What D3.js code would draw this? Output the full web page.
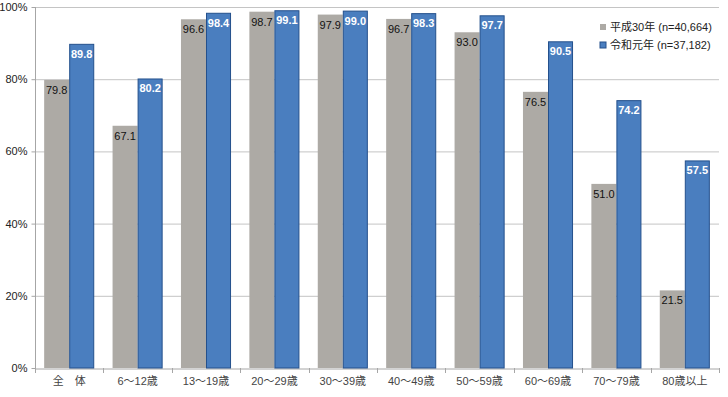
<!DOCTYPE html>
<html>
<head>
<meta charset="utf-8">
<script src="https://cdn.jsdelivr.net/npm/d3@7"></script>
<style>
  body { margin: 0; background: #fff; }
  svg { display: block; font-family: "Liberation Sans", Arial, "Noto Sans CJK JP", sans-serif; }
</style>
</head>
<body>
<svg id="chart" width="728" height="397"></svg>
<script>
// chart data
const categories = ['全\u3000体', '6〜12歳', '13〜19歳', '20〜29歳', '30〜39歳', '40〜49歳', '50〜59歳', '60〜69歳', '70〜79歳', '80歳以上'];
const seriesNames = ['平成30年 (n=40,664)', '令和元年 (n=37,182)'];
const h30 = [79.8, 67.1, 96.6, 98.7, 97.9, 96.7, 93.0, 76.5, 51.0, 21.5];
const r01 = [89.8, 80.2, 98.4, 99.1, 99.0, 98.3, 97.7, 90.5, 74.2, 57.5];
const yTicks = [0, 20, 40, 60, 80, 100];

const margin = { left: 35, right: 9, top: 7, bottom: 29 };
const W = 728, H = 397;

const svg = d3.select('#chart');

let x = d3.scaleBand()
  .domain(categories)
  .range([margin.left, W - margin.right]);

let y = d3.scaleLinear()
  .domain([0, 100])
  .range([H - margin.bottom, margin.top]);

let barW = x.bandwidth() * 0.366;

// grid lines
svg.append('g')
  .selectAll('line')
  .data(yTicks.filter(d => d > 0))
  .join('line')
  .attr('x1', margin.left)
  .attr('x2', W - margin.right)
  .attr('y1', d => y(d) + 0.5)
  .attr('y2', d => y(d) + 0.5)
  .attr('stroke', '#c4c4c4');

// y axis
let yAxis = svg.append('g')
  .attr('transform', `translate(${margin.left + 0.5},0)`)
  .call(d3.axisLeft(y).tickValues(yTicks).tickFormat(d => d + '%').tickSize(4).tickPadding(4));
yAxis.select('.domain').attr('stroke', '#a6a6a6').attr('d', `M0,${y(100)}V${y(0)}`);
yAxis.selectAll('.tick line').attr('stroke', '#a6a6a6');
yAxis.selectAll('.tick text').attr('font-size', 11).attr('fill', '#222')
  .attr('font-family', '"Liberation Sans", Arial, sans-serif');

// x axis
let xAxis = svg.append('g')
  .attr('transform', `translate(0,${y(0) + 0.5})`)
  .call(d3.axisBottom(x).tickSize(0).tickPadding(9));
xAxis.select('.domain').attr('stroke', '#a6a6a6');
xAxis.selectAll('.tick text').attr('font-size', 11).attr('fill', '#444')
  .attr('font-family', '"Liberation Sans", Arial, "Noto Sans CJK JP", sans-serif');
// category boundary ticks
svg.append('g')
  .selectAll('line')
  .data(d3.range(categories.length + 1))
  .join('line')
  .attr('x1', i => Math.round(margin.left + i * x.step()) + 0.5)
  .attr('x2', i => Math.round(margin.left + i * x.step()) + 0.5)
  .attr('y1', y(0))
  .attr('y2', y(0) + 5)
  .attr('stroke', '#a6a6a6');

// bars
let bars = svg.append('g');
categories.forEach((c, i) => {
  let cx = x(c) + x.bandwidth() / 2;
  bars.append('rect')
    .attr('x', cx - barW)
    .attr('y', y(h30[i]))
    .attr('width', barW)
    .attr('height', y(0) - y(h30[i]))
    .attr('fill', '#adaaa5');
  bars.append('rect')
    .attr('x', cx + 0.5)
    .attr('y', y(r01[i]) + 0.5)
    .attr('width', barW - 1)
    .attr('height', y(0) - y(r01[i]) - 0.5)
    .attr('fill', '#4a7ebf')
    .attr('stroke', '#24508c')
    .attr('stroke-width', 1);

  bars.append('text')
    .attr('x', cx - barW / 2)
    .attr('y', y(h30[i]) + 14)
    .attr('text-anchor', 'middle')
    .attr('font-size', 11)
    .attr('fill', '#111')
    .text(h30[i].toFixed(1));
  bars.append('text')
    .attr('x', cx + barW / 2)
    .attr('y', y(r01[i]) + 14)
    .attr('text-anchor', 'middle')
    .attr('font-size', 11)
    .attr('font-weight', 'bold')
    .attr('fill', '#fff')
    .text(r01[i].toFixed(1));
});

// legend
let legend = svg.append('g').attr('transform', 'translate(600,24)');
let legColors = ['#adaaa5', '#4a7ebf'];
seriesNames.forEach((s, i) => {
  let g = legend.append('g').attr('transform', `translate(0,${i * 18})`);
  g.append('rect')
    .attr('x', 0).attr('y', 0)
    .attr('width', 6).attr('height', 6)
    .attr('fill', legColors[i])
    .attr('stroke', i ? '#24508c' : 'none');
  g.append('text')
    .attr('x', 10).attr('y', 7)
    .attr('font-size', 11)
    .attr('fill', '#222')
    .text(s);
});
</script>
</body>
</html>
